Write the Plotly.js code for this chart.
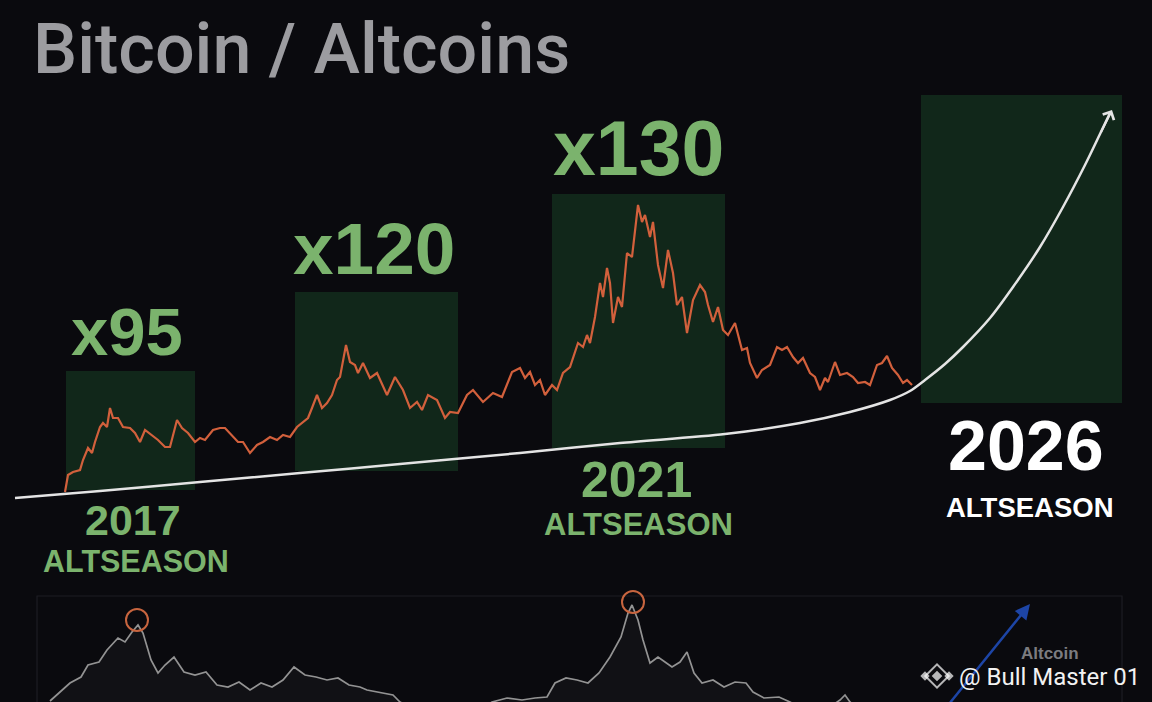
<!DOCTYPE html>
<html>
<head>
<meta charset="utf-8">
<script src="https://cdn.plot.ly/plotly-3.0.1.min.js"></script>
<style>
  html, body { margin: 0; padding: 0; background: #0a0a0e; }
  #chart { width: 1152px; height: 702px; }
</style>
</head>
<body>
<div id="chart"></div>
<script>
// ---------- DATA (abstract chart units) ----------
// Altcoin ratio line (orange)
const altX = [65,68,73,80,83,88,92,95,100,103,107,110,113,118,123,130,135,140,145,152,158,165,170,177,182,188,195,200,205,213,220,225,232,238,243,250,257,263,270,277,283,290,297,303,308,312,317,322,327,332,337,340,343,346,350,355,358,363,370,377,387,395,403,410,417,422,428,437,445,450,458,467,473,483,493,502,512,520,525,530,535,540,545,552,557,563,570,575,578,583,587,590,595,600,603,607,610,613,618,622,627,632,638,642,645,650,653,658,663,668,673,677,682,687,693,700,705,708,713,718,723,728,735,742,747,750,757,762,770,777,782,787,793,798,803,810,815,820,825,828,835,840,847,853,858,865,870,877,882,887,892,898,903,907,912];
const altY = [210,227,230,232,242,254,249,260,275,279,275,294,284,284,275,274,269,260,272,267,262,255,255,282,274,269,260,264,262,272,274,274,267,260,260,249,257,260,265,262,267,265,275,280,284,294,307,294,299,307,322,325,342,357,340,337,329,339,324,329,307,325,312,294,300,292,307,302,284,290,289,307,312,300,309,305,330,334,324,330,317,322,307,317,312,329,335,349,359,355,367,359,385,419,405,434,419,379,405,395,449,445,497,480,487,465,480,437,414,452,429,397,405,369,402,417,410,397,380,395,372,367,379,352,354,339,324,332,337,355,352,355,345,339,344,329,325,312,324,320,340,327,329,325,319,320,317,337,339,346,334,327,319,322,317];

// Rising trend curve (white)
const trendX = [15,100,200,300,400,520,620,725,800,850,890,910,925,945,963,990,1013,1040,1063,1085,1100,1110];
const trendY = [204,211,220,229,238,249,259,268,279,290,302,311,322,338,355,384,415,455,495,537,568,589];

// Altseason windows
const seasonStart  = [66, 295, 552, 921];
const seasonEnd    = [195, 458, 725, 1122];
const seasonTop    = [331, 410, 508, 607];
const seasonBottom = [212, 231, 254, 299];

// Multipliers and season labels
const gainLabels = ['x95', 'x120', 'x130'];
const seasonYears = ['2017', '2021', '2026'];
const seasonWord = 'ALTSEASON';

// Lower panel: altcoin season index (grey)
const idxX = [50,59,70,81,88,99,107,118,125,132,138,143,151,158,165,174,184,195,206,217,228,239,250,261,272,283,294,305,316,327,338,349,360,367,382,393,400,420,450,480,492,507,522,535,547,555,566,577,588,599,610,621,628,632,638,643,650,658,665,672,680,687,694,702,713,724,735,746,753,764,779,790,805,830,840,845,850,860];
const idxY = [1,9,19,25,37,40,52,64,60,70,77,69,42,29,37,45,30,27,30,17,15,20,12,19,15,22,35,27,25,22,24,17,15,12,9,7,0,-10,-15,-8,0,4,2,4,5,19,24,22,19,29,45,65,89,97,82,62,39,45,40,35,40,50,29,19,22,15,20,19,10,4,5,0,-8,-5,2,7,0,-8];
const peakX = [137, 633];
const peakY = [82, 100];

// ---------- STYLE / LAYOUT ----------
const BG = '#0a0a0e';
const GREEN_BOX = '#11271a';
const GREEN_TXT = '#7bb36d';
const FONT = 'Liberation Sans, Arial, sans-serif';

const gainPos = [[127, 371, 67], [374, 454, 73], [638, 554, 77]];
const yearPos = [[133, 182, 43, GREEN_TXT], [636, 222, 50, GREEN_TXT], [1026, 256, 70, '#ffffff']];
const wordPos = [[136, 141, 30.5, GREEN_TXT], [638, 178, 31, GREEN_TXT], [1030, 195, 27.5, '#ffffff']];

const traces = [
  { x: altX, y: altY, mode: 'lines', line: { color: '#d2603c', width: 2.2 }, hoverinfo: 'skip' },
  { x: trendX, y: trendY, mode: 'lines', line: { color: '#e4e4e4', width: 2.5, shape: 'spline', smoothing: 0.8 }, hoverinfo: 'skip' },
  { x: idxX, y: idxY, mode: 'lines', fill: 'tozeroy', fillcolor: 'rgba(255,255,255,0.03)',
    line: { color: '#939393', width: 1.7 }, hoverinfo: 'skip' },
  { x: peakX, y: peakY, mode: 'markers', marker: { symbol: 'circle-open', size: 22, color: '#c8653f', line: { width: 2, color: '#c8653f' } }, hoverinfo: 'skip' },
  // watermark logo
  { x: [937, 937, 925, 949], y: [26, 26, 26, 26], mode: 'markers',
    marker: { symbol: ['diamond-open', 'diamond', 'diamond', 'diamond'], size: [18, 6, 5, 5], color: '#ffffff', line: { width: 2, color: '#ffffff' } }, hoverinfo: 'skip' }
];

const shapes = seasonStart.map((s, i) => ({
  type: 'rect', xref: 'x', yref: 'y', x0: s, x1: seasonEnd[i], y0: seasonBottom[i], y1: seasonTop[i],
  fillcolor: GREEN_BOX, line: { width: 0 }, layer: 'below'
}));
shapes.push({ type: 'rect', xref: 'x', yref: 'y', x0: 37, x1: 1122, y0: -10, y1: 106,
  fillcolor: 'rgba(0,0,0,0)', line: { color: '#1d1d23', width: 1.2 }, layer: 'below' });

const annotations = [];
gainLabels.forEach((t, i) => annotations.push({
  x: gainPos[i][0], y: gainPos[i][1], text: t, showarrow: false, xanchor: 'center', yanchor: 'middle',
  font: { family: FONT, size: gainPos[i][2], color: GREEN_TXT, weight: 700 }
}));
seasonYears.forEach((t, i) => {
  annotations.push({ x: yearPos[i][0], y: yearPos[i][1], text: t, showarrow: false, xanchor: 'center', yanchor: 'middle',
    font: { family: FONT, size: yearPos[i][2], color: yearPos[i][3], weight: 700 } });
  annotations.push({ x: wordPos[i][0], y: wordPos[i][1], text: seasonWord, showarrow: false, xanchor: 'center', yanchor: 'middle',
    font: { family: FONT, size: wordPos[i][2], color: wordPos[i][3], weight: 700 } });
});
// arrow head of trend curve
annotations.push({ x: trendX[trendX.length - 1] + 2, y: trendY[trendY.length - 1] + 3, ax: trendX[trendX.length - 2], ay: trendY[trendY.length - 2],
  axref: 'x', ayref: 'y', text: '', showarrow: true, arrowhead: 4, arrowsize: 1.1, arrowwidth: 2.2, arrowcolor: '#e4e4e4' });
// lower panel blue arrow
annotations.push({ x: 1030, y: 98, ax: 949, ay: -2, axref: 'x', ayref: 'y', text: '', showarrow: true,
  arrowhead: 2, arrowsize: 1.2, arrowwidth: 2.5, arrowcolor: '#1d45a6' });
annotations.push({ x: 1050, y: 49, text: 'Altcoin', showarrow: false, xanchor: 'center', yanchor: 'middle',
  font: { family: FONT, size: 17, color: '#7c7c80', weight: 700 } });
// watermark
annotations.push({ x: 957, y: 25, text: '@ Bull Master 01', showarrow: false, xanchor: 'left', yanchor: 'middle',
  font: { family: 'Roboto, sans-serif', size: 24, color: '#f2f2f2' } });

const layout = {
  width: 1152, height: 702,
  margin: { l: 0, r: 0, t: 0, b: 0, pad: 0 },
  paper_bgcolor: BG, plot_bgcolor: BG,
  showlegend: false,
  title: { text: 'Bitcoin / Altcoins', x: 33 / 1152, xanchor: 'left', y: 1 - 48 / 702, yanchor: 'middle',
    font: { family: 'Roboto, sans-serif', size: 70, color: '#9c9ca0', weight: 500 } },
  xaxis: { range: [0, 1152], visible: false, fixedrange: true },
  yaxis: { range: [0, 702], visible: false, fixedrange: true },
  shapes: shapes,
  annotations: annotations
};

Plotly.newPlot('chart', traces, layout, { displayModeBar: false, staticPlot: true });
</script>
</body>
</html>
